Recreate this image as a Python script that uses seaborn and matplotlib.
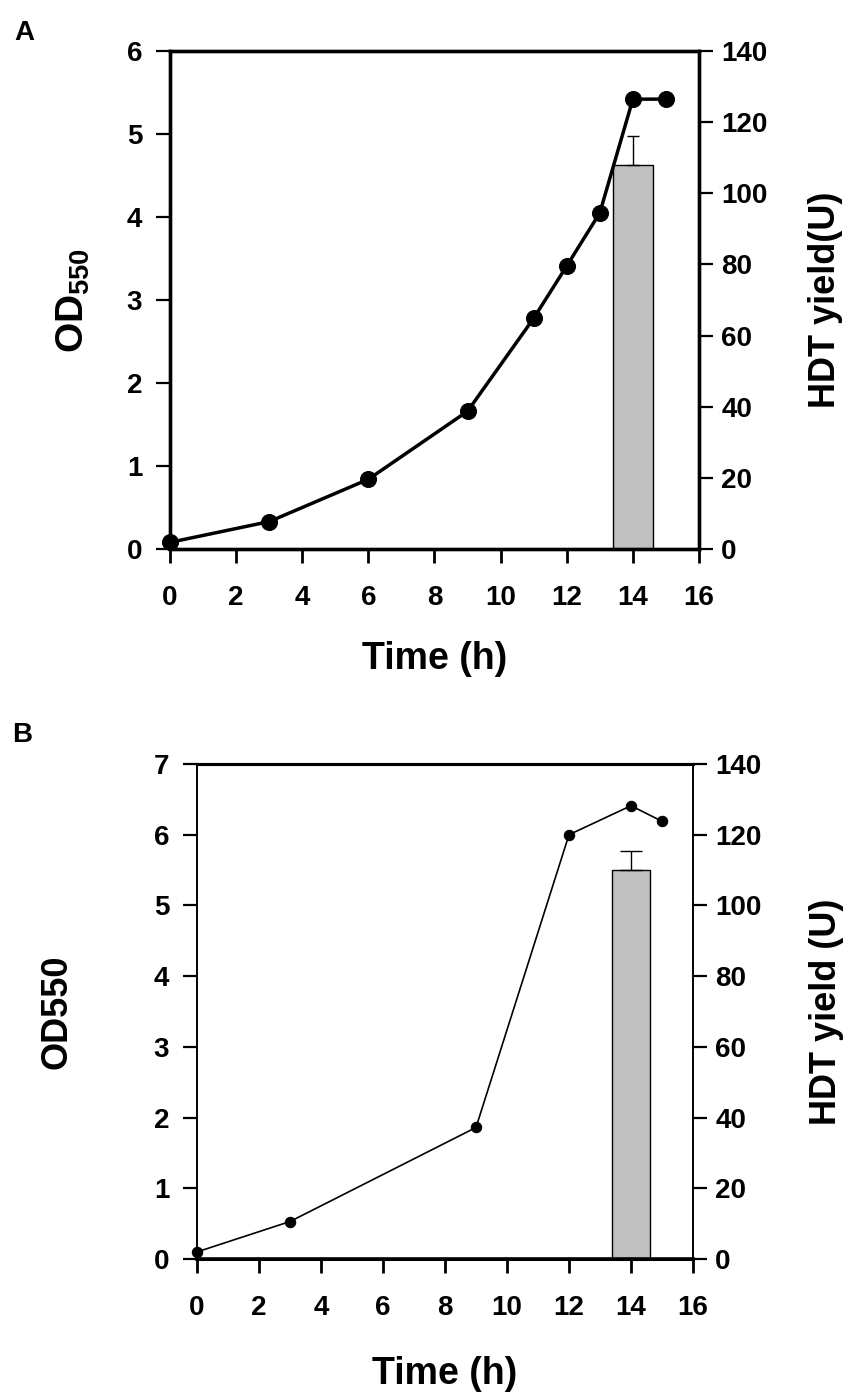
import numpy as np
import pandas as pd
import matplotlib
matplotlib.use("Agg")
import matplotlib.pyplot as plt
import seaborn as sns

# Data
time_a = [0, 3, 6, 9, 11, 12, 13, 14, 15]
od_a = [0.08, 0.33, 0.84, 1.66, 2.78, 3.41, 4.05, 5.42, 5.42]
time_b = [0, 3, 9, 12, 14, 15]
od_b = [0.10, 0.53, 1.86, 6.00, 6.41, 6.19]
bar_time = 14
hdt_a, hdt_a_err = 108, 8
hdt_b, hdt_b_err = 110, 5.5

sns.set_style("ticks")
plt.rcParams['font.family'] = ['Liberation Sans', 'DejaVu Sans']
plt.rcParams['font.weight'] = 'bold'
plt.rcParams['mathtext.fontset'] = 'custom'
plt.rcParams['mathtext.rm'] = 'Liberation Sans'
for k in ['text.color', 'axes.labelcolor', 'xtick.color', 'ytick.color', 'axes.edgecolor']:
    plt.rcParams[k] = 'black'

fig = plt.figure(figsize=(8.54, 13.96), dpi=100)
W, H = 854, 1396


def add_panel(l, r, t, b):
    return fig.add_axes([l / W, 1 - b / H, (r - l) / W, (b - t) / H])


def style(ax, ax2, ymax_l, spine_lr, spine_tb):
    ax.set_xlim(0, 16)
    ax.set_xticks(range(0, 17, 2))
    ax.set_ylim(0, ymax_l)
    ax.set_yticks(range(0, ymax_l + 1))
    ax2.set_ylim(0, 140)
    ax2.set_yticks(range(0, 141, 20))
    for a in (ax, ax2):
        for s in ("left", "right"):
            a.spines[s].set_linewidth(spine_lr)
        for s in ("top", "bottom"):
            a.spines[s].set_linewidth(spine_tb)
        a.spines["top"].set_visible(True)
        a.spines["right"].set_visible(True)
    ax.tick_params(axis="y", direction="out", length=10, width=1.6,
                   labelsize=20, pad=10)
    ax.tick_params(axis="x", direction="out", length=10, width=2.0,
                   labelsize=20, pad=16)
    ax2.tick_params(axis="y", direction="out", length=10, width=1.6,
                    labelsize=20, pad=6)
    for lab in ax.get_xticklabels() + ax.get_yticklabels() + ax2.get_yticklabels():
        lab.set_fontweight("bold")
    ax.set_zorder(ax2.get_zorder() + 1)
    ax.patch.set_visible(False)


# Panel A
axA = add_panel(170, 699, 51, 549)
axA2 = axA.twinx()
axA2.bar([bar_time], [hdt_a], width=1.2, color="#c0c0c0",
         edgecolor="black", linewidth=1.0)
axA2.errorbar([bar_time], [hdt_a], yerr=[[0], [hdt_a_err]], fmt="none",
              ecolor="black", elinewidth=1.0, capsize=4, capthick=1.0)
sns.lineplot(x=time_a, y=od_a, ax=axA, color="black", linewidth=2.5,
             marker="o", markersize=11.5, markeredgecolor="black", clip_on=False)
style(axA, axA2, 6, 2.4, 2.4)
axA.set_xlabel("Time (h)", fontsize=27, fontweight="bold")
axA.set_ylabel(r"OD$_{\mathrm{550}}$", fontsize=28, fontweight="bold")
axA2.set_ylabel("HDT yield(U)", fontsize=26, fontweight="bold")
axA.xaxis.set_label_coords(0.5, -0.184)
axA.yaxis.set_label_coords(-0.147, 0.5)
axA2.yaxis.set_label_coords(1.206, 0.5)
fig.text(24 / W, 1 - 33 / H, "A", fontsize=20, fontweight="bold",
         ha="center", va="center")

# Panel B
axB = add_panel(197, 693, 764, 1259)
axB2 = axB.twinx()
axB2.bar([bar_time], [hdt_b], width=1.2, color="#c0c0c0",
         edgecolor="black", linewidth=1.0)
axB2.errorbar([bar_time], [hdt_b], yerr=[[0], [hdt_b_err]], fmt="none",
              ecolor="black", elinewidth=1.0, capsize=8, capthick=1.0)
sns.lineplot(x=time_b, y=od_b, ax=axB, color="black", linewidth=1.2,
             marker="o", markersize=7.5, markeredgecolor="black", clip_on=False)
style(axB, axB2, 7, 1.2, 2.2)
axB.spines["bottom"].set_linewidth(2.6)
axB.set_xlabel("Time (h)", fontsize=27, fontweight="bold")
axB.set_ylabel("OD550", fontsize=26, fontweight="bold")
axB2.set_ylabel("HDT yield (U)", fontsize=26, fontweight="bold")
axB.xaxis.set_label_coords(0.5, -0.195)
axB.yaxis.set_label_coords(-0.246, 0.5)
axB2.yaxis.set_label_coords(1.234, 0.5)
fig.text(22 / W, 1 - 735 / H, "B", fontsize=20, fontweight="bold",
         ha="center", va="center")

fig.savefig("out.png", dpi=100)
